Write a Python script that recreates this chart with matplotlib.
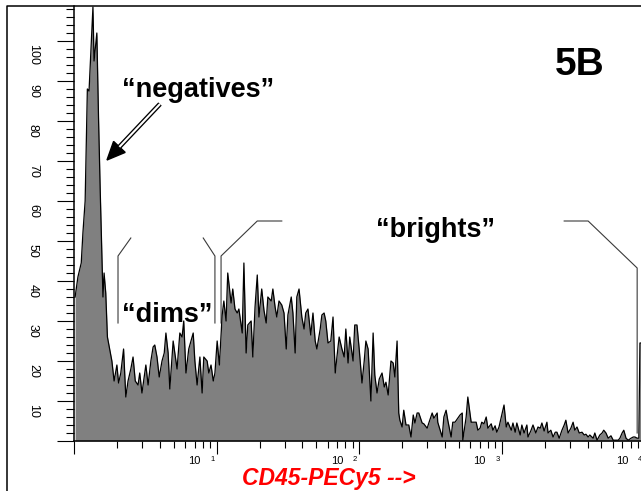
import numpy as np
import matplotlib
matplotlib.use('Agg')
import matplotlib.pyplot as plt
from matplotlib.lines import Line2D
from matplotlib.patches import Polygon
from matplotlib.ticker import FixedLocator, NullFormatter, LogLocator

plt.rcParams['font.family'] = ['Liberation Sans', 'DejaVu Sans']

# CD45-PECy5 histogram
# channel: 1024 channels over 4 log decades, counts: events
channel = [2, 7, 13, 16, 20, 24, 27, 34, 36, 41, 44, 47, 52, 54, 57, 60, 64, 68, 72, 77,
           80, 84, 89, 93, 97, 102, 106, 110, 115, 118, 122, 126, 129, 133, 138, 142, 145, 149, 153, 158,
           162, 165, 169, 172, 178, 181, 185, 190, 194, 197, 201, 206, 210, 214, 217, 221, 226, 230, 233, 239,
           242, 246, 250, 253, 257, 261, 266, 269, 273, 276, 282, 285, 289, 293, 296, 302, 305, 309, 312, 318,
           321, 325, 329, 332, 337, 341, 345, 348, 354, 357, 361, 364, 368, 373, 377, 381, 384, 390, 393, 397,
           400, 404, 409, 413, 416, 420, 425, 429, 433, 436, 442, 445, 449, 452, 456, 461, 465, 469, 472, 476,
           481, 485, 488, 492, 495, 501, 504, 508, 512, 517, 521, 524, 528, 533, 537, 540, 544, 548, 553, 557,
           560, 564, 569, 573, 576, 580, 583, 585, 589, 592, 596, 601, 605, 609, 612, 616, 619, 625, 628, 634,
           637, 643, 646, 652, 653, 661, 664, 668, 671, 677, 680, 684, 689, 693, 697, 698, 704, 707, 713, 716,
           722, 725, 729, 732, 736, 740, 743, 749, 752, 756, 759, 763, 768, 772, 776, 779, 785, 788, 792, 795,
           801, 804, 808, 813, 815, 820, 824, 829, 833, 837, 840, 844, 849, 851, 856, 860, 864, 867, 871, 876,
           880, 883, 887, 892, 896, 899, 903, 907, 912, 916, 919, 923, 926, 932, 935, 939, 944, 948, 951, 955,
           959, 964, 968, 971, 977, 980, 984, 987, 991, 995, 1000, 1004, 1007, 1011, 1014, 1016, 1023]
counts = [36, 41, 44.5, 52, 60, 88, 87.5, 108.5, 95, 102, 81, 63, 36, 42, 37, 26, 23, 20, 15, 19,
          14.5, 17, 23, 11, 15, 18, 21, 15, 14, 17, 12, 16, 19, 14, 20, 23.5, 24, 21, 16, 20,
          22, 27, 22, 13, 25, 22, 18, 27, 26, 30, 17, 23, 25, 27, 20, 14, 21, 12, 21, 20,
          17, 19, 15, 17, 25, 19, 31.5, 35, 30, 42, 34.5, 38, 33, 32, 33, 27, 44.5, 22, 29, 30,
          21, 33.5, 41.5, 31, 38, 32.7, 29.5, 36, 35, 38, 33.5, 31, 35, 34, 32, 23, 31.5, 36, 32, 22,
          36, 38, 31, 28, 32, 33, 26.5, 32, 25, 23, 28, 31.5, 32, 30, 24.5, 25, 31, 17, 21, 26,
          23, 21, 28, 19.5, 26, 20, 29, 29, 23, 14.5, 20, 25, 23, 10, 27, 16.5, 12, 15.5, 17, 13.5,
          14.7, 11.5, 20, 19.5, 16, 25, 7, 5.2, 3.5, 7.7, 4, 4, 1, 6.5, 4.5, 7, 7, 4.5, 4.3, 3.2,
          4.5, 7, 5.7, 7, 4.7, 1, 6, 7.7, 5.2, 1, 4.7, 4.7, 5.7, 6.5, 7, 0.2, 6, 11, 4.7, 4.7,
          4.7, 2.7, 3.2, 4.7, 4.3, 6, 3.2, 4.3, 2.7, 3.8, 2.2, 3.5, 6.5, 9, 3.5, 4.7, 2.7, 4.5, 2.2, 4.5,
          1.5, 4, 2, 4, 1, 2.5, 4, 2, 3.5, 3.2, 4.5, 2.5, 4.7, 2, 2.7, 1, 2.2, 2.2, 0.7, 2.7,
          4, 5.2, 2, 3.2, 4.7, 2.7, 3.5, 2, 2.2, 1.5, 1.7, 1, 1.5, 0.7, 2, 0.2, 1.5, 2, 2.7, 2,
          0.7, 1.3, 0.2, 0.2, 0.2, 0.7, 2, 2.7, 0.7, 0.2, 0.7, 1, 1, 0.7, 0.7, 24.5, 24.5]

y_ticks = [10, 20, 30, 40, 50, 60, 70, 80, 90, 100]
x_decades = [1, 2, 3, 4]

# gate brackets as (channel, count)
dims_left = [(79, 29.5), (79, 46.25), (102, 50.75)]
dims_right = [(253, 29.5), (253, 46.25), (232, 50.75)]
brights_left = [(264, 29.5), (264, 46.25), (329, 55), (373, 55)]
brights_right = [(880, 55), (923, 55), (1011, 43.25), (1011, 2)]

W, H = 641, 491
fig = plt.figure(figsize=(W / 100, H / 100), dpi=100)
ax = fig.add_axes([74 / W, 50 / H, 570.4 / W, 435 / H])


def fp(x, y):
    # pixel position (from top left) -> figure fraction
    return x / W, 1 - y / H


x = 10 ** (np.array(channel) / 256)
ax.fill_between(x, counts, 0, color='#808080', lw=0, zorder=2)
ax.plot(x, counts, color='black', lw=0.9, zorder=3)

for gate in [dims_left, dims_right, brights_left, brights_right]:
    gx = [10 ** (c / 256) for c, v in gate]
    gy = [v for c, v in gate]
    ax.plot(gx, gy, color='#3a3a3a', lw=0.8, zorder=1)

ax.set_xscale('log')
ax.set_xlim(1, 1e4)
ax.set_ylim(0, 108.75)

ax.spines['top'].set_visible(False)
ax.spines['right'].set_visible(False)
ax.spines['left'].set_linewidth(1.1)
ax.spines['bottom'].set_linewidth(1.1)

ax.yaxis.set_major_locator(FixedLocator([0] + y_ticks))
ax.yaxis.set_minor_locator(FixedLocator(np.arange(2, 109, 2)))
ax.yaxis.set_major_formatter(NullFormatter())
ax.xaxis.set_major_locator(FixedLocator([1, 10, 100, 1000, 10000]))
ax.xaxis.set_minor_locator(LogLocator(base=10, subs=np.arange(2, 10)))
ax.xaxis.set_major_formatter(NullFormatter())
ax.xaxis.set_minor_formatter(NullFormatter())
ax.tick_params(axis='y', which='major', length=12.2, width=0.8)
ax.tick_params(axis='y', which='minor', length=5.8, width=0.8)
ax.tick_params(axis='x', which='major', length=9.4, width=0.8)
ax.tick_params(axis='x', which='minor', length=5, width=0.8)

for v in y_ticks:
    ax.annotate(str(v), xy=(0, v), xycoords=('axes fraction', 'data'),
                xytext=(-41 * 0.72, -3 * 0.72), textcoords='offset points',
                rotation=-90, ha='center', va='top', fontsize=9)

for k in x_decades:
    ax.annotate('10', xy=(10 ** k, 0), xytext=(-16 * 0.72, -23 * 0.72),
                textcoords='offset points', ha='right', va='baseline', fontsize=8,
                annotation_clip=False)
    ax.annotate(str(k), xy=(10 ** k, 0), xytext=(-4 * 0.72, -20 * 0.72),
                textcoords='offset points', ha='center', va='baseline', fontsize=5.5,
                annotation_clip=False)

fig.text(*fp(198, 97), '\u201cnegatives\u201d', ha='center', va='baseline', fontsize=19.5, fontweight='bold')
fig.text(*fp(167, 322), '\u201cdims\u201d', ha='center', va='baseline', fontsize=19.5, fontweight='bold')
fig.text(*fp(436, 237), '\u201cbrights\u201d', ha='center', va='baseline', fontsize=19.5, fontweight='bold')
fig.text(*fp(580, 75), '5B', ha='center', va='baseline', fontsize=28, fontweight='bold')
fig.text(*fp(329, 478.5), 'CD45-PECy5 -->', ha='center', va='center', fontsize=16.5,
         fontweight='bold', style='italic', color='red')

# arrow: hollow shaft, black head
tail = fp(160, 104)
base = fp(119.4, 146.9)
fig.add_artist(Line2D([tail[0], base[0]], [tail[1], base[1]], transform=fig.transFigure,
                      color='black', lw=3.4, solid_capstyle='butt'))
fig.add_artist(Line2D([tail[0], base[0]], [tail[1], base[1]], transform=fig.transFigure,
                      color='white', lw=1.5, solid_capstyle='butt'))
fig.add_artist(Polygon([fp(107, 160), fp(125.2, 152.4), fp(113.6, 141.4)], closed=True,
                       transform=fig.transFigure, color='black'))

# outer frame (top and left)
fig.add_artist(Line2D([7 / W, 7 / W, 1], [0, 1 - 6 / H, 1 - 6 / H], transform=fig.transFigure,
                      color='black', lw=1.1))

fig.savefig('out.png', dpi=100)
